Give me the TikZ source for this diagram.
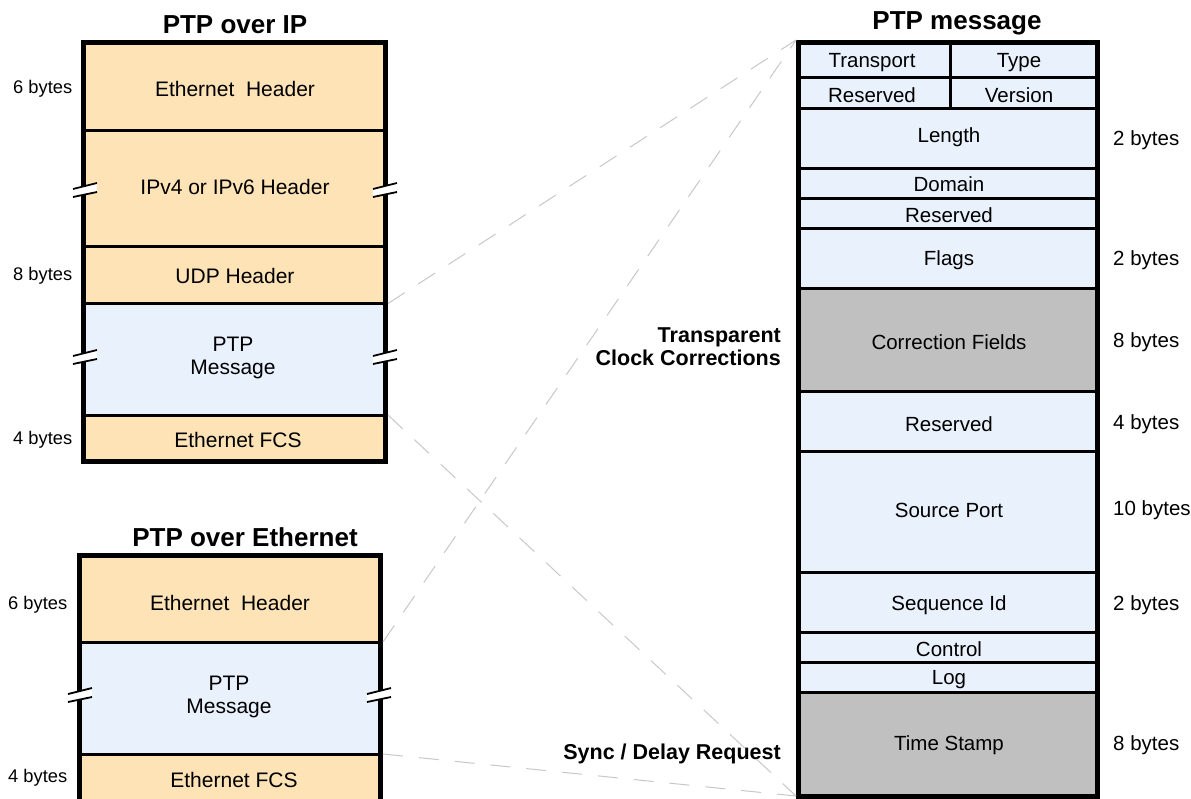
\documentclass[tikz,border=0pt]{standalone}
\usepackage{fontspec}
\setmainfont{Liberation Sans}
\definecolor{peach}{RGB}{253,227,181}
\definecolor{ltblue}{RGB}{233,241,253}
\definecolor{fgray}{RGB}{192,192,192}
\definecolor{dgray}{RGB}{200,200,200}
\newcommand{\brkmark}[2]{%
  \fill[white] ({#1-12},{#2-1}) -- ({#1+12},{#2-7}) -- ({#1+12},{#2+2}) -- ({#1-12},{#2+7}) -- cycle;
  \draw[line width=1.8] ({#1-12},{#2-1}) -- ({#1+12},{#2-7});
  \draw[line width=1.8] ({#1-12},{#2+7}) -- ({#1+12},{#2+2});}
\tikzset{
  txtbase/.style={inner sep=0pt, yshift=-2.5pt},
  body/.style={txtbase, font=\fontsize{21}{24}\selectfont, align=center},
  rbody/.style={txtbase, font=\fontsize{20.5}{24}\selectfont, align=center},
  lbytes/.style={txtbase, font=\fontsize{18.3}{22}\selectfont, anchor=west},
  rbytes/.style={txtbase, font=\fontsize{20.5}{24}\selectfont, anchor=west},
  title/.style={txtbase, font=\bfseries\fontsize{26}{30}\selectfont},
  blabel/.style={txtbase, font=\bfseries\fontsize{21.5}{23}\selectfont, anchor=east, align=right},
  divider/.style={line width=3},
  outer/.style={line width=5},
  link/.style={dgray, line width=1, dash pattern=on 20pt off 16pt}
}
\begin{document}
\begin{tikzpicture}[x=1pt,y=-1pt]
\useasboundingbox (0,0) rectangle (1191,798);
\clip (0,0) rectangle (1191,798);
\fill[white] (0,0) rectangle (1191,798);

% ---------- PTP over IP ----------
\fill[peach] (83,42.5) rectangle (385.5,303.5);
\fill[ltblue] (83,303.5) rectangle (385.5,415);
\fill[peach] (83,415) rectangle (385.5,461.5);
\foreach \y in {130,246,303.5,415} \draw[divider] (83,\y) -- (385.5,\y);
\draw[outer] (83,42.5) rectangle (385.5,461.5);
\brkmark{85}{190}
\brkmark{385}{190}
\brkmark{85}{357}
\brkmark{385}{357}
\node[title] (t1) at (235,22) {PTP over IP};
\node[body] (a1) at (235,86) {Ethernet\ \ Header};
\node[body] (a2) at (235,184) {IPv4 or IPv6 Header};
\node[body] (a3) at (235,273) {UDP Header};
\node[body, font=\fontsize{21}{23}\selectfont] (a4) at (233,355) {PTP\\Message};
\node[body] (a5) at (238,437) {Ethernet FCS};
\node[lbytes] (b1) at (13,86) {6 bytes};
\node[lbytes] (b2) at (13,273) {8 bytes};
\node[lbytes] (b3) at (13,437) {4 bytes};

% ---------- PTP over Ethernet ----------
\fill[peach] (79,555.5) rectangle (380.5,642);
\fill[ltblue] (79,642) rectangle (380.5,754);
\fill[peach] (79,754) rectangle (380.5,805);
\foreach \y in {642,754} \draw[divider] (79,\y) -- (380.5,\y);
\draw[outer] (79,555.5) rectangle (380.5,805);
\brkmark{80}{695}
\brkmark{379}{695}
\node[title] (t2) at (245,535) {PTP over Ethernet};
\node[body] (e1) at (230,600) {Ethernet\ \ Header};
\node[body, font=\fontsize{21}{23}\selectfont] (e2) at (229,694) {PTP\\Message};
\node[body] (e3) at (234,777) {Ethernet FCS};
\node[lbytes] (f1) at (8,602) {6 bytes};
\node[lbytes] (f2) at (8,775) {4 bytes};

% ---------- PTP message ----------
\fill[ltblue] (798.5,42) rectangle (1097.5,288);
\fill[fgray] (798.5,288) rectangle (1097.5,391.7);
\fill[ltblue] (798.5,391.7) rectangle (1097.5,692.7);
\fill[fgray] (798.5,692.7) rectangle (1097.5,796);
\foreach \y in {77.7,108.3,168.3,198.3,228.3,288,391.7,451.7,572.7,632.3,662.3,692.7}
  \draw[divider] (798.5,\y) -- (1097.5,\y);
\draw[divider] (950.7,42) -- (950.7,108.3);
\draw[outer] (798.5,42) rectangle (1097.5,796);
\node[title] (t3) at (957,21) {PTP message};
\node[rbody] (m1) at (872,60) {Transport};
\node[rbody] (m2) at (1019,60) {Type};
\node[rbody] (m3) at (872,93) {Reserved};
\node[rbody] (m4) at (1019,93) {Version};
\node[rbody] (m5) at (949,135) {Length};
\node[rbody] (m6) at (949,182) {Domain};
\node[rbody] (m7) at (949,213) {Reserved};
\node[rbody] (m8) at (949,258) {Flags};
\node[rbody] (m9) at (949,340) {Correction Fields};
\node[rbody] (m10) at (949,422) {Reserved};
\node[rbody] (m11) at (949,508) {Source Port};
\node[rbody] (m12) at (949,603) {Sequence Id};
\node[rbody] (m13) at (949,647) {Control};
\node[rbody] (m14) at (949,677) {Log};
\node[rbody] (m15) at (949,743) {Time Stamp};
\node[rbytes] (r1) at (1113,138) {2 bytes};
\node[rbytes] (r2) at (1113,258) {2 bytes};
\node[rbytes] (r3) at (1113,340) {8 bytes};
\node[rbytes] (r4) at (1113,422) {4 bytes};
\node[rbytes] (r5) at (1113,508) {10 bytes};
\node[rbytes] (r6) at (1113,603) {2 bytes};
\node[rbytes] (r7) at (1113,743) {8 bytes};

\node[blabel] (l1) at (781,344) {Transparent\\Clock Corrections};
\node[blabel] (l2) at (781,751) {Sync / Delay Request};

% ---------- connectors ----------
\coordinate (ipPtpTop) at (388,303.5);
\coordinate (ipPtpBot) at (388,415);
\coordinate (ethPtpTop) at (383,642);
\coordinate (ethPtpBot) at (383,754);
\coordinate (msgTop) at (796,40);
\coordinate (msgBot) at (796,796);
\draw[link] (ipPtpTop) -- (msgTop);
\draw[link] (ethPtpTop) -- (msgTop);
\draw[link] (ipPtpBot) -- (msgBot);
\draw[link] (ethPtpBot) -- (msgBot);
\end{tikzpicture}
\end{document}
